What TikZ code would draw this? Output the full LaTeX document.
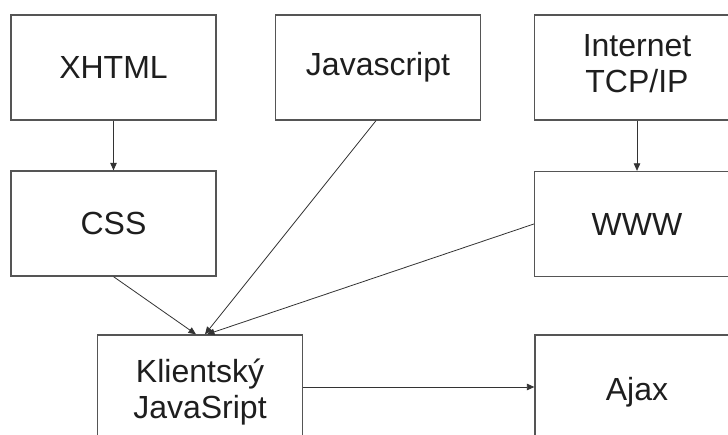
\documentclass[tikz,border=0pt]{standalone}
\usepackage{fontspec}
\setmainfont{Liberation Sans}
\usetikzlibrary{arrows.meta}
\definecolor{boxline}{HTML}{555555}
\definecolor{arrowline}{HTML}{333333}
\definecolor{label}{HTML}{1e1e1e}
\tikzset{
  box/.style={draw=boxline, line width=1.3pt, rectangle, minimum width=205pt,
    minimum height=105pt, inner sep=0pt, align=center, text=label,
    font=\fontsize{32}{36}\selectfont},
  tallbox/.style={box, minimum height=114pt},
  link/.style={draw=arrowline, line width=0.8pt,
    -{Triangle[length=7.5pt,width=6.5pt]}},
}
\begin{document}
\begin{tikzpicture}[x=1pt, y=-1pt]
\useasboundingbox (0,0) rectangle (728,435);
\clip (0,0) rectangle (728,435);
\fill[white] (0,0) rectangle (728,435);

% top row
\node[box] (xhtml) at (113.5,67.5) {XHTML};
\node[box] (js)    at (378,67.5)   {Javascript};
\node[box] (inet)  at (637,67.5)
  {\raisebox{-3pt}{\begin{tabular}{@{}c@{}}Internet\\TCP/IP\end{tabular}}};

% middle row
\node[box] (css) at (113.5,223.5) {CSS};
\node[box] (www) at (637,224)     {WWW};

% bottom row
\node[tallbox] (client) at (200,392) {Klientský\\JavaSript};
\node[tallbox, minimum width=204pt] (ajax) at (637,392) {Ajax};

% connectors
\draw[link] (xhtml.south) -- (css.north);
\draw[link] (inet.south) -- (www.north);
\draw[link] (css.south) -- ([xshift=-4pt]client.north);
\draw[link] ([xshift=-2pt]js.south) -- ([xshift=5pt]client.north);
\draw[link] (www.west) -- ([xshift=7pt]client.north);
\draw[link] ([yshift=5pt]client.east) -- ([yshift=5pt]ajax.west);
\end{tikzpicture}
\end{document}
